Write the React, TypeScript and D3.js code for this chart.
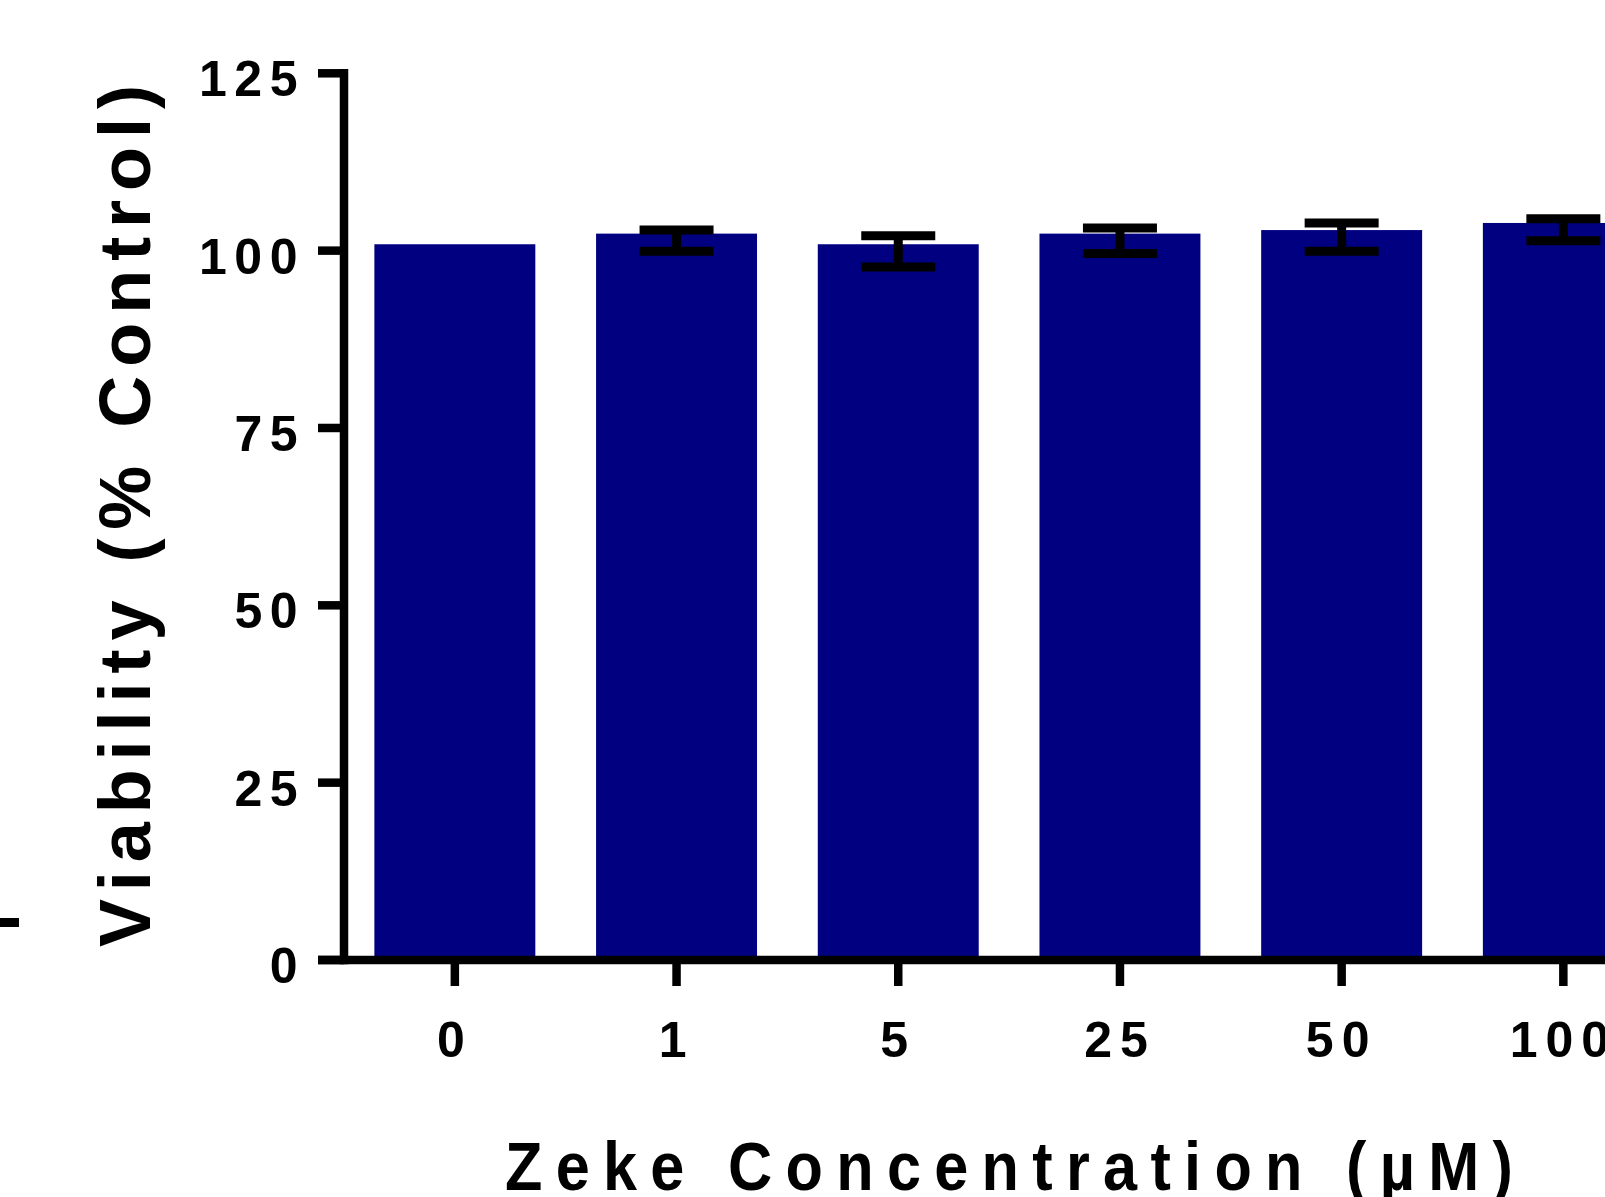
import React from "react";
import * as d3 from "d3";

const categories = ["0", "1", "5", "25", "50", "100"];
const means = [100.9, 102.4, 100.9, 102.4, 102.9, 103.9];
const errHigh: (number | null)[] = [null, 102.9, 102.1, 103.2, 103.9, 104.5];
const errLow: (number | null)[] = [null, 99.9, 97.7, 99.6, 99.9, 101.4];
const yTicks = [0, 25, 50, 75, 100, 125];
const yTitle = "Viability (% Control)";
const xTitle = "Zeke Concentration (\u00b5M)";

const W = 1605;
const H = 1197;
const FONT = "'Liberation Sans', Arial, Helvetica, sans-serif";
const BAR = "#000080";

export default function App() {
  const axisX = 344;
  const step = 221.7;
  const x = d3
    .scaleBand<string>()
    .domain(categories)
    .range([axisX, axisX + step * categories.length])
    .paddingInner(0.274)
    .paddingOuter(0.137);
  const y = d3.scaleLinear().domain([0, 125]).range([960, 73.3]);
  const tickLen = 26;
  const lw = 8.5;
  const capW = 74;
  const xsx = 0.9;

  return (
    <div style={{ position: "fixed", left: 0, top: 0, width: W, height: H, overflow: "hidden", background: "#fff" }}>
      <svg width={W} height={H} viewBox={`0 0 ${W} ${H}`} style={{ display: "block" }}>
        <rect x={0} y={0} width={W} height={H} fill="#fff" />
        {/* stray dash at left edge */}
        <line x1={0} x2={19} y1={922.5} y2={922.5} stroke="#000" strokeWidth={9} />

        {/* bars */}
        {categories.map((c, i) => (
          <rect
            key={c}
            x={x(c)!}
            y={y(means[i])}
            width={x.bandwidth()}
            height={y(0) - y(means[i])}
            fill={BAR}
          />
        ))}

        {/* error bars */}
        {categories.map((c, i) => {
          const hi = errHigh[i];
          const lo = errLow[i];
          if (hi == null || lo == null) return null;
          const cx = x(c)! + x.bandwidth() / 2;
          return (
            <g key={"e" + c} stroke="#000" strokeWidth={9}>
              <line x1={cx} x2={cx} y1={y(hi)} y2={y(lo)} />
              <line x1={cx - capW / 2} x2={cx + capW / 2} y1={y(hi)} y2={y(hi)} />
              <line x1={cx - capW / 2} x2={cx + capW / 2} y1={y(lo)} y2={y(lo)} />
            </g>
          );
        })}

        {/* y axis */}
        <line x1={axisX} x2={axisX} y1={y(125) - lw / 2} y2={y(0) + lw / 2} stroke="#000" strokeWidth={lw} />
        {yTicks.map((t) => (
          <g key={"yt" + t}>
            <line x1={axisX - tickLen} x2={axisX} y1={y(t)} y2={y(t)} stroke="#000" strokeWidth={lw} />
            <text
              x={305}
              y={y(t) + 23}
              textAnchor="end"
              fontFamily={FONT}
              fontWeight="bold"
              fontSize={50}
              letterSpacing={7.5}
              fill="#000"
            >
              {t}
            </text>
          </g>
        ))}

        {/* x axis */}
        <line x1={axisX - tickLen} x2={W + 10} y1={y(0)} y2={y(0)} stroke="#000" strokeWidth={lw} />
        {categories.map((c) => {
          const cx = x(c)! + x.bandwidth() / 2;
          return (
            <g key={"xt" + c}>
              <line x1={cx} x2={cx} y1={y(0)} y2={y(0) + tickLen} stroke="#000" strokeWidth={lw} />
              <text
                x={cx}
                y={1057}
                textAnchor="middle"
                fontFamily={FONT}
                fontWeight="bold"
                fontSize={50}
                letterSpacing={8}
                fill="#000"
              >
                {c}
              </text>
            </g>
          );
        })}

        {/* axis titles */}
        <text
          transform="translate(150,947) rotate(-90)"
          fontFamily={FONT}
          fontWeight="bold"
          fontSize={72}
          textLength={862}
          lengthAdjust="spacing"
          fill="#000"
        >
          {yTitle}
        </text>
        <text
          transform={`translate(505,1190) scale(${xsx},1)`}
          fontFamily={FONT}
          fontWeight="bold"
          fontSize={68}
          textLength={1008 / xsx}
          lengthAdjust="spacing"
          fill="#000"
        >
          {xTitle}
        </text>
      </svg>
    </div>
  );
}
